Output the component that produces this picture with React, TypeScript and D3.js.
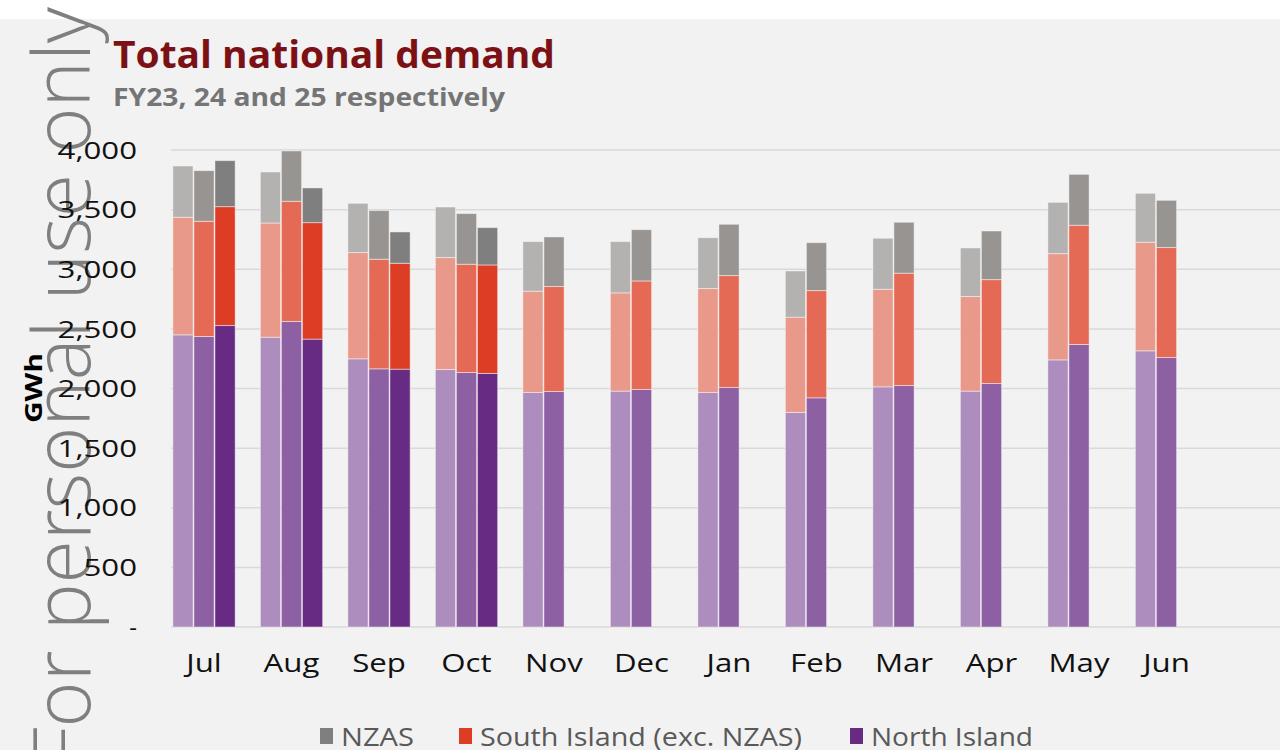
import * as d3 from 'd3';
import { useEffect, useRef } from 'react';

const months = ['Jul', 'Aug', 'Sep', 'Oct', 'Nov', 'Dec', 'Jan', 'Feb', 'Mar', 'Apr', 'May', 'Jun'];
const years = ['FY23', 'FY24', 'FY25'];

// GWh (FY25 only has Jul-Oct)
const northFY23 = [2450, 2430, 2249, 2159, 1967, 1978, 1967, 1799, 2014, 1978, 2240, 2316];
const southFY23 = [986, 958, 891, 939, 849, 824, 871, 799, 818, 793, 891, 910];
const nzasFY23 = [430, 428, 413, 424, 416, 430, 427, 388, 428, 408, 430, 411];

const northFY24 = [2436, 2562, 2165, 2134, 1975, 1992, 2009, 1922, 2025, 2042, 2369, 2260];
const southFY24 = [966, 1008, 919, 908, 880, 910, 938, 899, 942, 871, 1000, 922];
const nzasFY24 = [425, 422, 408, 425, 416, 430, 430, 402, 427, 408, 427, 396];

const northFY25 = [2528, 2414, 2162, 2126];
const southFY25 = [997, 977, 888, 910];
const nzasFY25 = [386, 291, 263, 313];

const yTicks = [0, 500, 1000, 1500, 2000, 2500, 3000, 3500, 4000];

const seriesKeys = ['north', 'south', 'nzas'];
const legendItems = [
    { key: 'nzas', label: 'NZAS', color: '#7f7f7f' },
    { key: 'south', label: 'South Island (exc. NZAS)', color: '#dc3d24' },
    { key: 'north', label: 'North Island', color: '#672b84' },
];

const palette: Record<string, string[]> = {
    nzas: ['#b3b2b0', '#989492', '#7f7f7f'],
    south: ['#e8998a', '#e46a55', '#dc3d24'],
    north: ['#ac8dbd', '#8d5fa3', '#672b84'],
};

const byYear = [
    { north: northFY23, south: southFY23, nzas: nzasFY23 },
    { north: northFY24, south: southFY24, nzas: nzasFY24 },
    { north: northFY25, south: southFY25, nzas: nzasFY25 },
];

const font = "'Open Sans', 'Noto Sans', sans-serif";

export default function App() {
    const svgRef = useRef<SVGSVGElement>(null);
    const width = 1280;
    const height = 750;
    const plotLeft = 171;
    const plotBottom = 627;
    const plotTop = 150;

    const x0 = d3.scaleBand<string>().domain(months).range([160.25, 1210.25]).paddingInner(0.2686).paddingOuter(0.1343);
    const x1 = d3.scaleBand<string>().domain(years).range([0, x0.bandwidth()]).padding(0.04);
    const y = d3.scaleLinear().domain([0, 4000]).range([plotBottom, plotTop]);

    // the original font is wider than what we have installed, so stretch labels a bit
    useEffect(() => {
        if (!svgRef.current) return;
        d3.select(svgRef.current)
            .selectAll<SVGTextElement, unknown>('text[data-stretch]')
            .each(function () {
                const f = +(this.getAttribute('data-stretch') || 1);
                this.setAttribute('textLength', String(this.getComputedTextLength() * f));
                this.setAttribute('lengthAdjust', 'spacingAndGlyphs');
            });
    }, []);

    const bars: { key: string; x: number; y0: number; y1: number; fill: string }[] = [];
    byYear.forEach((ser, yi) => {
        const rows = ser.north.map((_, i) => ({ month: months[i], north: ser.north[i], south: ser.south[i], nzas: ser.nzas[i] }));
        const stacked = d3.stack<any>().keys(seriesKeys)(rows);
        stacked.forEach((layer) => {
            layer.forEach((d) => {
                bars.push({
                    key: `${years[yi]}-${layer.key}-${d.data.month}`,
                    x: x0(d.data.month)! + x1(years[yi])!,
                    y0: y(d[0]),
                    y1: y(d[1]),
                    fill: palette[layer.key][yi],
                });
            });
        });
    });

    const legendX = [320, 459, 850];
    const legendW = [73, 322, 162];

    return (
        <div style={{ position: 'absolute', left: 0, top: 0 }}>
            <svg ref={svgRef} width={width} height={height} style={{ display: 'block' }}>
                <rect x={0} y={0} width={width} height={height} fill="#ffffff" />
                <rect x={0} y={19} width={width} height={height - 19} fill="#f2f2f2" />

                {/* watermark */}
                <text
                    transform="translate(90,767) rotate(-90)"
                    fontFamily={font}
                    fontWeight={300}
                    fontSize={80}
                    fill="#7f7f7f"
                    textLength={760}
                    lengthAdjust="spacingAndGlyphs"
                >
                    For personal use only
                </text>

                <text x={113} y={68} fontFamily={font} fontWeight={700} fontSize={38} fill="#7b1115" textLength={442} lengthAdjust="spacingAndGlyphs">
                    Total national demand
                </text>
                <text x={113} y={106} fontFamily={font} fontWeight={700} fontSize={25} fill="#757575" textLength={392} lengthAdjust="spacingAndGlyphs">
                    FY23, 24 and 25 respectively
                </text>

                {yTicks.map((t) => (
                    <g key={t}>
                        <line x1={plotLeft} x2={width} y1={y(t)} y2={y(t)} stroke="#d9d9d9" strokeWidth={1.5} />
                        <text
                            x={137}
                            y={y(t)}
                            dy="0.36em"
                            textAnchor="end"
                            fontFamily={font}
                            fontSize={24}
                            fill="#111"
                            data-stretch={t === 0 ? 1 : 1.3}
                        >
                            {t === 0 ? '-' : d3.format(',')(t)}
                        </text>
                    </g>
                ))}

                <text
                    transform="translate(42,388) rotate(-90)"
                    textAnchor="middle"
                    fontFamily={font}
                    fontWeight={700}
                    fontSize={23}
                    fill="#000"
                    textLength={70}
                    lengthAdjust="spacingAndGlyphs"
                >
                    GWh
                </text>

                {bars.map((b) => (
                    <rect
                        key={b.key}
                        x={b.x}
                        y={b.y1}
                        width={x1.bandwidth()}
                        height={b.y0 - b.y1}
                        fill={b.fill}
                        stroke="#ffffff"
                        strokeOpacity={0.45}
                        strokeWidth={1}
                    />
                ))}

                {months.map((m) => (
                    <text
                        key={m}
                        x={x0(m)! + x0.bandwidth() / 2}
                        y={672}
                        textAnchor="middle"
                        fontFamily={font}
                        fontSize={26}
                        fill="#111"
                        data-stretch={1.2}
                    >
                        {m}
                    </text>
                ))}

                {legendItems.map((l, i) => (
                    <g key={l.key}>
                        <rect x={legendX[i]} y={728} width={13} height={16} fill={l.color} />
                        <text
                            x={legendX[i] + 21}
                            y={746}
                            fontFamily={font}
                            fontSize={26}
                            fill="#595959"
                            textLength={legendW[i]}
                            lengthAdjust="spacingAndGlyphs"
                        >
                            {l.label}
                        </text>
                    </g>
                ))}
            </svg>
        </div>
    );
}
